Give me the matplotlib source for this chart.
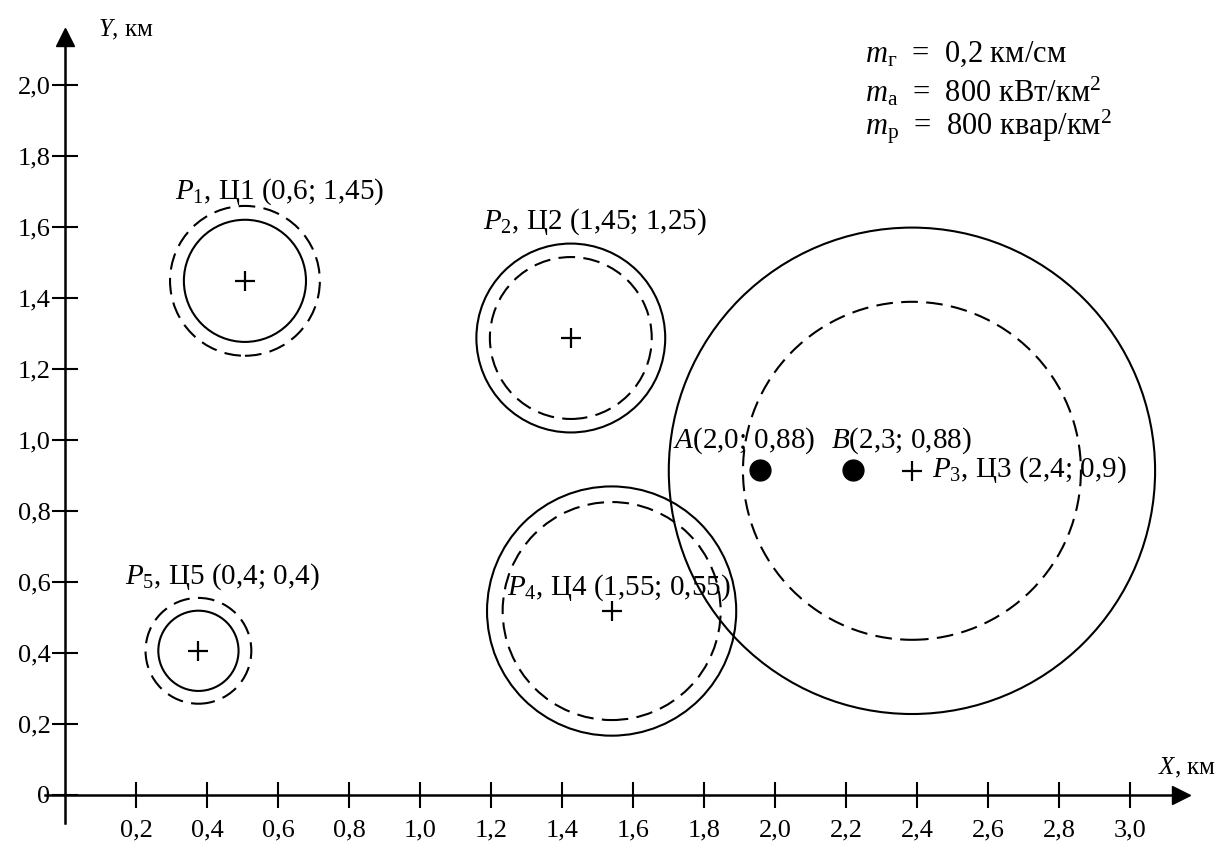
import matplotlib
matplotlib.use("Agg")
import matplotlib.pyplot as plt
from matplotlib.patches import Circle

# centres of the loads (as drawn), km
cx = [0.507, 1.425, 2.386, 1.54, 0.376]
cy = [1.448, 1.287, 0.913, 0.518, 0.406]
# radii of active (solid) and reactive (dashed) load circles, km
r_act = [0.172, 0.266, 0.685, 0.351, 0.113]
r_react = [0.211, 0.228, 0.476, 0.307, 0.149]
names = [r"$P_1$, Ц1 (0,6; 1,45)", r"$P_2$, Ц2 (1,45; 1,25)", r"$P_3$, Ц3 (2,4; 0,9)",
         r"$P_4$, Ц4 (1,55; 0,55)", r"$P_5$, Ц5 (0,4; 0,4)"]

# points A and B
pt_x = [1.958, 2.22]
pt_y = [0.915, 0.915]
pt_names = [r"$A$(2,0; 0,88)", r"$B$(2,3; 0,88)"]

xticks = [0.2, 0.4, 0.6, 0.8, 1.0, 1.2, 1.4, 1.6, 1.8, 2.0, 2.2, 2.4, 2.6, 2.8, 3.0]
yticks = [0, 0.2, 0.4, 0.6, 0.8, 1.0, 1.2, 1.4, 1.6, 1.8, 2.0]

plt.rcParams['font.family'] = ['Liberation Serif', 'DejaVu Serif']
plt.rcParams['mathtext.fontset'] = 'custom'
plt.rcParams['mathtext.rm'] = 'Liberation Serif'
plt.rcParams['mathtext.it'] = 'Liberation Serif:italic'

fig = plt.figure(figsize=(12.3, 8.5), dpi=100)
ax = fig.add_axes([0, 0, 1, 1])
ax.set_xlim(-0.183, 3.282)
ax.set_ylim(-0.155, 2.239)

# axes through the origin
for s in ['top', 'right']:
    ax.spines[s].set_visible(False)
ax.spines['left'].set_position(('data', 0))
ax.spines['bottom'].set_position(('data', 0))
ax.spines['left'].set_bounds(-0.08, 2.12)
ax.spines['bottom'].set_bounds(-0.055, 3.13)
for s in ['left', 'bottom']:
    ax.spines[s].set_linewidth(1.8)
ax.plot(3.145, 0, marker='>', ms=13, color='black', clip_on=False)
ax.plot(0, 2.135, marker='^', ms=13, color='black', clip_on=False)

ax.set_xticks(xticks)
ax.set_xticklabels([f"{v:.1f}".replace('.', ',') for v in xticks])
ax.set_yticks(yticks)
ax.set_yticklabels(['0'] + [f"{v:.1f}".replace('.', ',') for v in yticks[1:]])
ax.tick_params(direction='inout', length=19, width=1.5, labelsize=19, pad=1)
ax.tick_params(axis='x', pad=8)

ax.text(0.093, 2.155, r"$Y$, км", fontsize=18, ha='left', va='center')
ax.text(3.08, 0.076, r"$X$, км", fontsize=18, ha='left', va='center')

# load circles
for i in range(len(cx)):
    ax.add_patch(Circle((cx[i], cy[i]), r_act[i], fill=False, lw=1.5, color='black'))
    ax.add_patch(Circle((cx[i], cy[i]), r_react[i], fill=False, lw=1.5, color='black',
                        linestyle=(0, (8, 4))))
ax.plot(cx, cy, '+', ms=15, mew=1.6, color='black', linestyle='none')

# labels
lab_pos = [(0.606, 1.699, 'center'), (1.493, 1.614, 'center'), (2.442, 0.915, 'left'),
           (1.245, 0.583, 'left'), (0.442, 0.614, 'center')]
for (lx, ly, ha), t in zip(lab_pos, names):
    ax.text(lx, ly, t, fontsize=21, ha=ha, va='center')

ax.plot(pt_x, pt_y, 'o', ms=15, color='black', linestyle='none')
for x, t in zip([1.913, 2.355], pt_names):
    ax.text(x, 0.997, t, fontsize=21, ha='center', va='center')

# scales
ax.text(2.254, 2.085, r"$m_{\mathrm{г}}$  =  0,2 км/см", fontsize=22, va='center')
ax.text(2.254, 1.980, r"$m_{\mathrm{а}}$  =  800 кВт/км$^2$", fontsize=22, va='center')
ax.text(2.254, 1.882, r"$m_{\mathrm{р}}$  =  800 квар/км$^2$", fontsize=22, va='center')

fig.savefig('out.png', dpi=100)
